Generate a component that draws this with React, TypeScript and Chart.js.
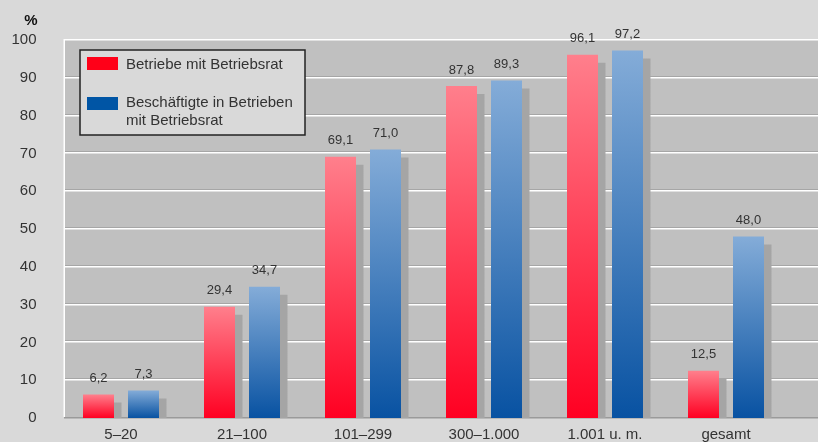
import React, { useEffect, useRef } from "react";
import { Chart, registerables } from "chart.js";

Chart.register(...registerables);

const categories = ["5–20", "21–100", "101–299", "300–1.000", "1.001 u. m.", "gesamt"];
const betriebe = [6.2, 29.4, 69.1, 87.8, 96.1, 12.5];
const beschaeftigte = [7.3, 34.7, 71.0, 89.3, 97.2, 48.0];
const seriesLabels = ["Betriebe mit Betriebsrat", "Beschäftigte in Betrieben", "mit Betriebsrat"];
const yTicks = [0, 10, 20, 30, 40, 50, 60, 70, 80, 90, 100];

const FONT = "'Liberation Sans', Arial, sans-serif";
const PAGE_BG = "#d9d9d9";
const PLOT_BG = "#c0c0c0";

function fmt(v: number) {
  return v.toFixed(1).replace(".", ",");
}

function makeGradient(ctx: any, top: string, bottom: string) {
  const chart = ctx.chart;
  const ys = chart.scales && chart.scales.y;
  if (!chart.chartArea || !ys || ctx.raw == null) return bottom;
  const y0 = ys.getPixelForValue(ctx.raw);
  const y1 = ys.getPixelForValue(0);
  if (!isFinite(y0) || !isFinite(y1) || y0 === y1) return bottom;
  const g = chart.ctx.createLinearGradient(0, y0, 0, y1);
  g.addColorStop(0, top);
  g.addColorStop(1, bottom);
  return g;
}

const backgroundPlugin = {
  id: "bgGrid",
  beforeDraw(chart: any) {
    const { ctx, width } = chart;
    const ys = chart.scales.y;
    ctx.save();
    ctx.fillStyle = PAGE_BG;
    ctx.fillRect(0, 0, width, chart.height);
    const left = 64;
    const top = ys.getPixelForValue(100);
    const bottom = ys.getPixelForValue(0);
    ctx.fillStyle = PLOT_BG;
    ctx.fillRect(left, top, width - left, bottom - top);
    for (const t of yTicks) {
      const py = Math.round(ys.getPixelForValue(t));
      if (t === 0) {
        ctx.fillStyle = "#9a9a9a";
        ctx.fillRect(left, py - 1, width - left, 1.5);
        continue;
      }
      if (t !== 100) {
        ctx.fillStyle = "#a6a6a6";
        ctx.fillRect(left, py - 2, width - left, 1);
      }
      ctx.fillStyle = "#ffffff";
      ctx.fillRect(left, py - 1, width - left, 1.5);
    }
    ctx.fillStyle = "#ffffff";
    ctx.fillRect(left - 0.5, top - 1, 1.5, bottom - top);
    ctx.fillStyle = "#111";
    ctx.font = `bold 15px ${FONT}`;
    ctx.textAlign = "center";
    ctx.textBaseline = "middle";
    ctx.fillText("%", 31, 21);
    ctx.restore();
  },
  beforeDatasetDraw(chart: any) {
    const ctx = chart.ctx;
    ctx.save();
    ctx.shadowColor = "rgb(165,165,165)";
    ctx.shadowOffsetX = 7.5;
    ctx.shadowOffsetY = 8;
    ctx.shadowBlur = 0;
  },
  afterDatasetDraw(chart: any) {
    chart.ctx.restore();
  },
  afterDatasetsDraw(chart: any) {
    const ctx = chart.ctx;
    ctx.save();
    ctx.fillStyle = "#333";
    ctx.font = `13px ${FONT}`;
    ctx.textAlign = "center";
    ctx.textBaseline = "middle";
    chart.data.datasets.forEach((ds: any, i: number) => {
      const meta = chart.getDatasetMeta(i);
      meta.data.forEach((el: any, j: number) => {
        ctx.fillText(fmt(ds.data[j]), el.x, el.y - 16);
      });
    });
    const lx = 80, ly = 50, lw = 225, lh = 85;
    ctx.fillStyle = PAGE_BG;
    ctx.fillRect(lx, ly, lw, lh);
    ctx.strokeStyle = "#222";
    ctx.lineWidth = 1.5;
    ctx.strokeRect(lx, ly, lw, lh);
    ctx.fillStyle = "#ff0018";
    ctx.fillRect(87, 57, 31, 13);
    ctx.fillStyle = "#0055a5";
    ctx.fillRect(87, 97, 31, 13);
    ctx.fillStyle = "#333";
    ctx.font = `15px ${FONT}`;
    ctx.textAlign = "left";
    ctx.fillText(seriesLabels[0], 126, 65);
    ctx.fillText(seriesLabels[1], 126, 103);
    ctx.fillText(seriesLabels[2], 126, 121);
    ctx.restore();
  },
};

export default function App() {
  const ref = useRef<HTMLCanvasElement>(null);
  useEffect(() => {
    document.body.style.margin = "0";
    const chart = new Chart(ref.current as HTMLCanvasElement, {
      type: "bar",
      data: {
        labels: categories,
        datasets: [
          {
            label: seriesLabels[0],
            data: betriebe,
            backgroundColor: (c: any) => makeGradient(c, "#ff7f8c", "#ff0022"),
            borderWidth: 0,
            categoryPercentage: 90 / 121,
            barPercentage: 31 / 45,
            clip: 0 as any,
          },
          {
            label: seriesLabels[1] + " " + seriesLabels[2],
            data: beschaeftigte,
            backgroundColor: (c: any) => makeGradient(c, "#84acd8", "#0852a2"),
            borderWidth: 0,
            categoryPercentage: 90 / 121,
            barPercentage: 31 / 45,
            clip: 0 as any,
          },
        ],
      },
      options: {
        animation: false,
        responsive: false,
        maintainAspectRatio: false,
        events: [],
        layout: { padding: { top: 40, right: 31.5, left: 0, bottom: 0 } },
        plugins: { legend: { display: false }, tooltip: { enabled: false } },
        scales: {
          x: {
            grid: { display: false, drawTicks: false },
            border: { display: false },
            ticks: { color: "#333", font: { family: FONT, size: 15 }, padding: 8 },
            afterFit: (s: any) => {
              s.height = 24;
              s.paddingLeft = 0;
              s.paddingRight = 0;
            },
          },
          y: {
            min: 0,
            max: 100,
            grid: { display: false, drawTicks: false },
            border: { display: false },
            ticks: { stepSize: 10, color: "#333", font: { family: FONT, size: 15 }, padding: 24 },
            afterFit: (s: any) => {
              s.width = 60.5;
              s.paddingTop = 0;
              s.paddingBottom = 0;
            },
          },
        },
      },
      plugins: [backgroundPlugin],
    });
    return () => chart.destroy();
  }, []);
  return (
    <div style={{ position: "fixed", left: 0, top: 0, width: 818, height: 442, background: PAGE_BG }}>
      <canvas ref={ref} width={818} height={442} style={{ width: 818, height: 442, display: "block" }} />
    </div>
  );
}
